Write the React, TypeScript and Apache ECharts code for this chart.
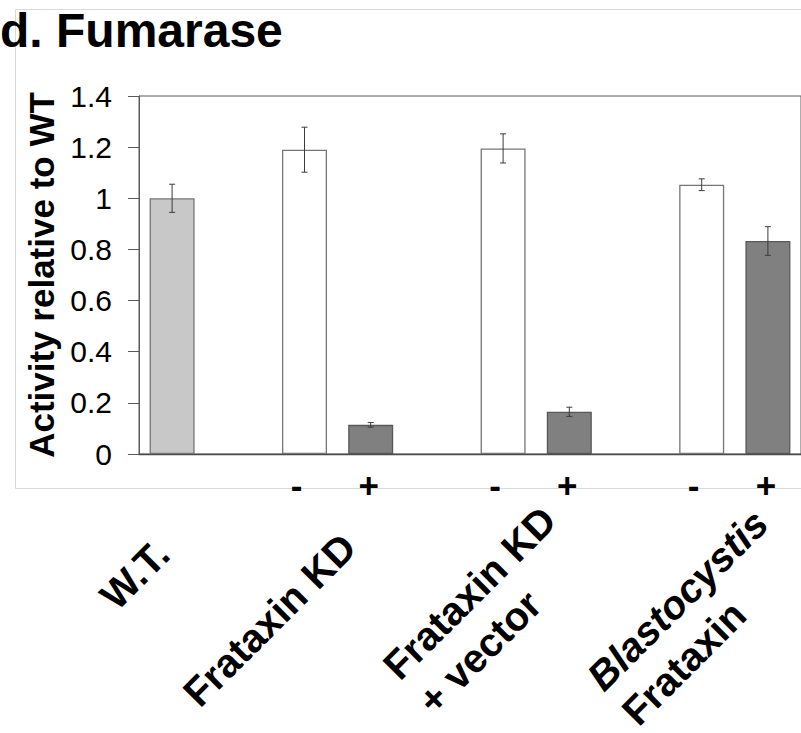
import React, { useEffect, useRef } from "react";
import * as echarts from "echarts";

// Fumarase activity, relative to wild type (W.T. = 1)
const slotKeys = ["wt", "gapA", "kdMinus", "kdPlus", "gapB", "vecMinus", "vecPlus", "gapC", "blastoMinus", "blastoPlus"];
const signLabels = ["", "", "-", "+", "", "-", "+", "", "-", "+"];
const activity: (number | null)[] = [1.0, null, 1.19, 0.114, null, 1.195, 0.165, null, 1.053, 0.833];
const errorSD: (number | null)[] = [0.055, null, 0.088, 0.009, null, 0.057, 0.018, null, 0.023, 0.056];
const barKind = ["wt", "", "minus", "plus", "", "minus", "plus", "", "minus", "plus"];

const yMin = 0;
const yMax = 1.4;
const yStep = 0.2;

const titleText = "d. Fumarase";
const yAxisTitle = "Activity relative to WT";

// Group captions, one entry per line
const groupLabels: { text: string; italic?: boolean }[][] = [
  [{ text: "W.T." }],
  [{ text: "Frataxin KD" }],
  [{ text: "Frataxin KD" }, { text: "+ vector" }],
  [{ text: "Blastocystis", italic: true }, { text: "Frataxin" }],
];

const FONT = "'Liberation Sans', Arial, Helvetica, sans-serif";

const kindStyle: Record<string, { color: string; borderColor: string }> = {
  wt: { color: "#c8c8c8", borderColor: "#767676" },
  minus: { color: "#ffffff", borderColor: "#767676" },
  plus: { color: "#808080", borderColor: "#585858" },
};

// Baseline start of the first line of each caption and the line spacing
const captionStarts: [number, number][] = [
  [117, 612],
  [200, 709],
  [400, 682],
  [604, 693],
];
const captionLineGap = 49;
const captionSize = 40;

export default function App() {
  const ref = useRef<HTMLDivElement>(null);

  useEffect(() => {
    if (!ref.current) return;
    const chart = echarts.init(ref.current, undefined, { renderer: "svg" });

    const barData = activity.map((v, i) =>
      v == null
        ? null
        : {
            value: v,
            itemStyle: { ...kindStyle[barKind[i]], borderWidth: 1.3 },
          }
    );

    const errData = activity
      .map((v, i) => (v == null || errorSD[i] == null ? null : [i, v, errorSD[i] as number]))
      .filter((d) => d != null) as number[][];

    // Rotated captions under the axis
    const s2 = Math.SQRT1_2;
    const mid = 0.3465 * captionSize;
    const captionGraphics: any[] = [];
    groupLabels.forEach((lines, gi) => {
      const [sx, sy] = captionStarts[gi];
      lines.forEach((ln, li) => {
        const bx = sx + li * captionLineGap * s2;
        const by = sy + li * captionLineGap * s2;
        captionGraphics.push({
          type: "text",
          x: bx - mid * s2,
          y: by - mid * s2,
          rotation: Math.PI / 4,
          style: {
            text: ln.text,
            fill: "#000",
            font: `${ln.italic ? "italic " : ""}bold ${captionSize}px ${FONT}`,
            textAlign: "left",
            textVerticalAlign: "middle",
          },
        });
      });
    });

    chart.setOption({
      animation: false,
      backgroundColor: "#ffffff",
      title: {
        text: titleText,
        left: 0,
        top: 6,
        padding: 0,
        textStyle: { fontSize: 48, fontWeight: "bold", color: "#000", fontFamily: FONT },
      },
      grid: {
        left: 139,
        top: 96,
        width: 670,
        height: 358,
        show: true,
        borderColor: "#5a5a5a",
        borderWidth: 1,
        backgroundColor: "transparent",
      },
      xAxis: {
        type: "category",
        data: slotKeys,
        axisLine: { lineStyle: { color: "#4a4a4a", width: 1.3 } },
        axisTick: { show: false },
        axisLabel: {
          interval: 0,
          margin: 14,
          formatter: (_: string, idx: number) => {
            const s = signLabels[idx];
            if (s === "-") return "{m|-}";
            if (s === "+") return "{p|+}";
            return "";
          },
          rich: {
            m: { fontSize: 35, fontWeight: "bold", fontFamily: FONT, color: "#000", padding: [0, 16, 0, 0] },
            p: { fontSize: 35, fontWeight: "bold", fontFamily: FONT, color: "#000", padding: [0, 4, 0, 0] },
          },
        },
      },
      yAxis: {
        type: "value",
        min: yMin,
        max: yMax,
        interval: yStep,
        name: yAxisTitle,
        nameLocation: "middle",
        nameGap: 80,
        nameTextStyle: { fontSize: 35, fontWeight: "bold", color: "#000", fontFamily: FONT },
        axisLine: { show: true, lineStyle: { color: "#5a5a5a", width: 1 } },
        axisTick: { show: true, inside: false, length: 11, lineStyle: { color: "#5a5a5a" } },
        splitLine: { show: false },
        axisLabel: {
          margin: 27,
          fontSize: 30,
          color: "#000",
          fontFamily: FONT,
        },
      },
      graphic: [
        {
          type: "rect",
          z: -10,
          shape: { x: 15.5, y: 9.5, width: 820, height: 479 },
          style: { fill: "none", stroke: "#d9d9d9", lineWidth: 1 },
          silent: true,
        },
        ...captionGraphics,
      ],
      series: [
        {
          type: "bar",
          data: barData,
          barWidth: 45,
          z: 2,
        },
        {
          type: "custom",
          data: errData,
          encode: { x: 0, y: 1 },
          z: 5,
          renderItem: (_params: any, api: any) => {
            const i = api.value(0);
            const v = api.value(1);
            const e = api.value(2);
            const hi = api.coord([i, v + e]);
            const lo = api.coord([i, v - e]);
            const x = hi[0];
            const hw = 3;
            const st = { stroke: "#3c3c3c", lineWidth: 1 };
            return {
              type: "group",
              children: [
                { type: "line", shape: { x1: x, y1: hi[1], x2: x, y2: lo[1] }, style: st },
                { type: "line", shape: { x1: x - hw, y1: hi[1], x2: x + hw, y2: hi[1] }, style: st },
                { type: "line", shape: { x1: x - hw, y1: lo[1], x2: x + hw, y2: lo[1] }, style: st },
              ],
            };
          },
        },
      ],
    });

    return () => chart.dispose();
  }, []);

  return (
    <div
      ref={ref}
      style={{ position: "fixed", left: 0, top: 0, width: 801, height: 733, background: "#fff" }}
    />
  );
}
